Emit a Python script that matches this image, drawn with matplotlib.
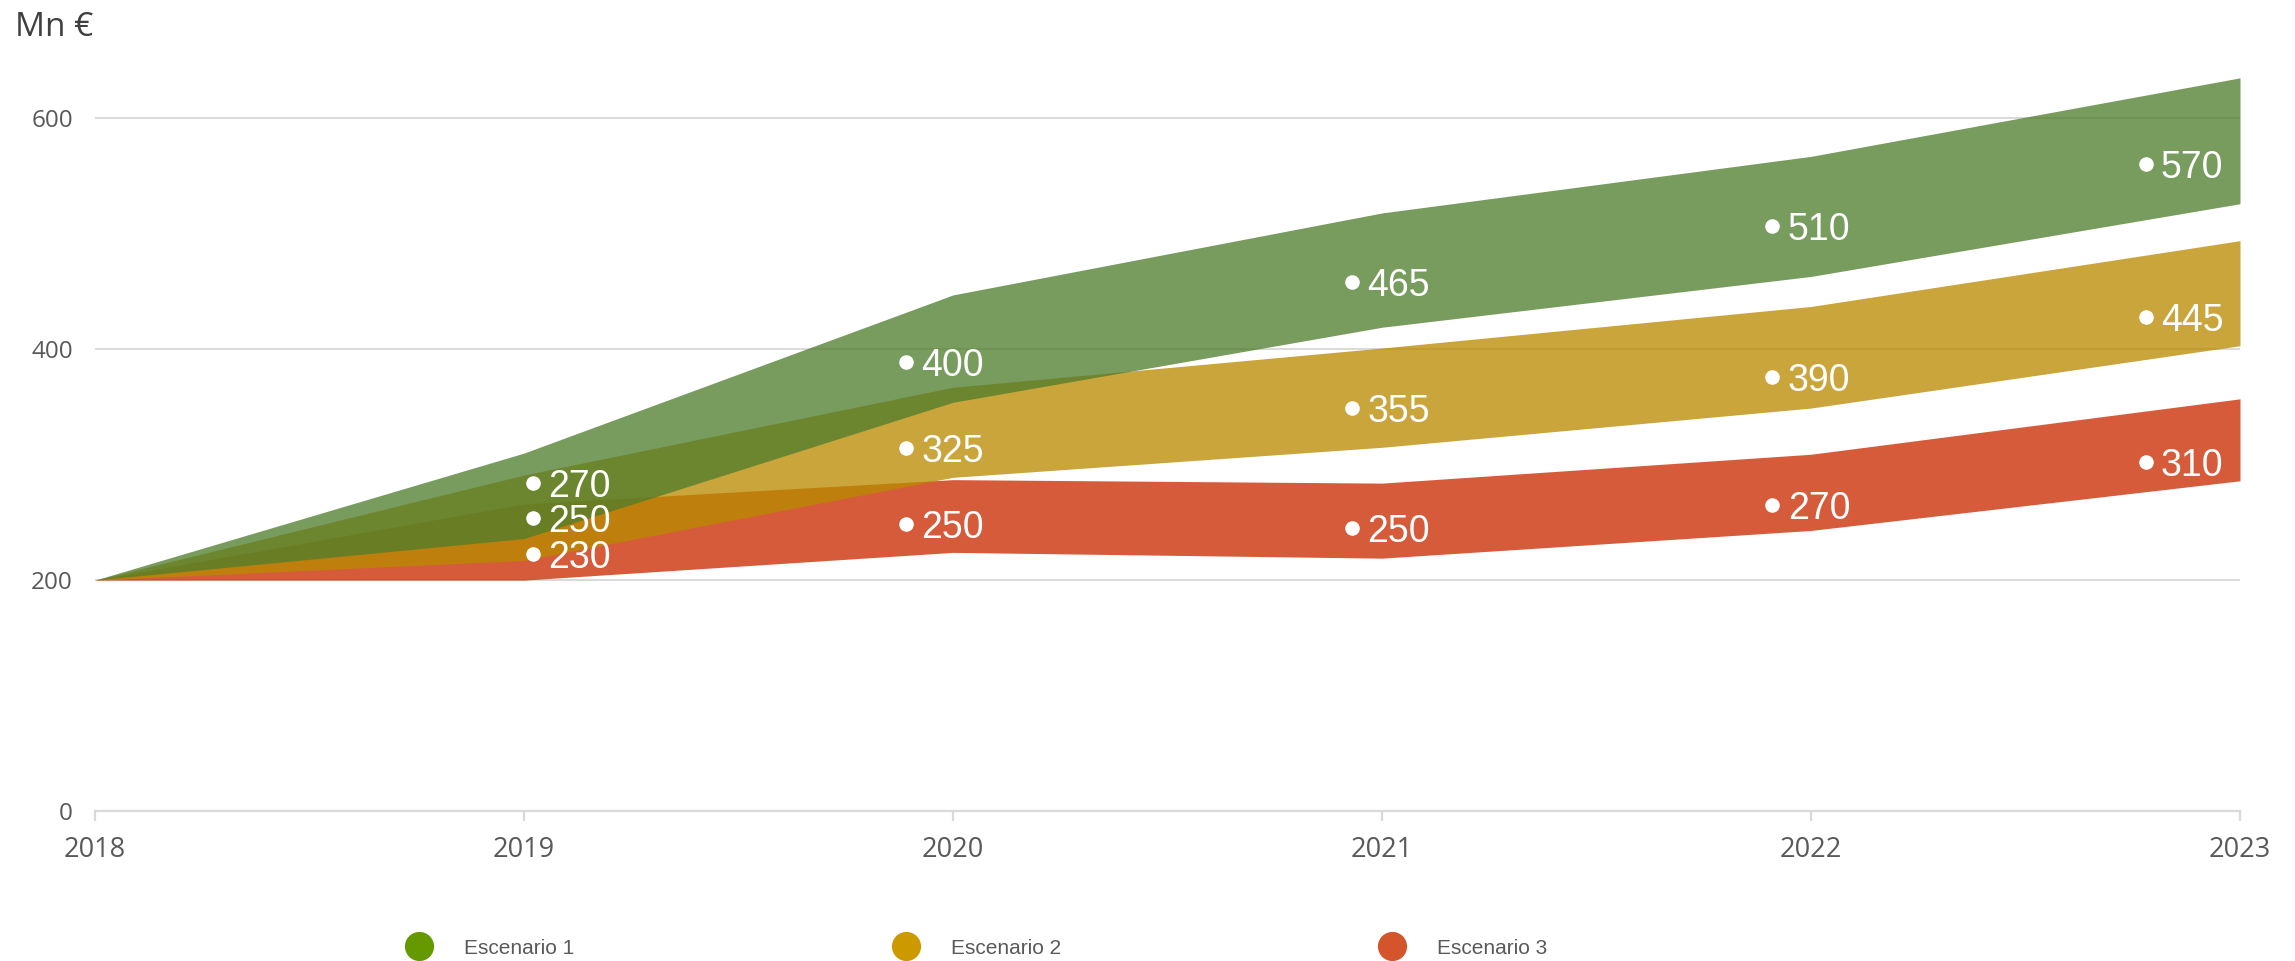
import matplotlib.pyplot as plt
from matplotlib.lines import Line2D

# ── Data (Mn €) ─────────────────────────────────────────────────────────────
years = [2018, 2019, 2020, 2021, 2022, 2023]

esc1_low  = [200, 236, 354, 419, 463, 526]
esc1_high = [200, 310, 447, 518, 567, 635]
esc2_low  = [200, 217, 289, 315, 349, 403]
esc2_high = [200, 291, 367, 401, 437, 494]
esc3_low  = [200, 200, 224, 219, 243, 286]
esc3_high = [200, 266, 287, 284, 309, 357]

# point labels: where the dot sits and the value written next to it
label_x   = [2019.02, 2019.89, 2020.93, 2021.91, 2022.78]
esc1_dot  = [284, 389, 458, 507, 560]
esc2_dot  = [254, 314, 349, 376, 428]
esc3_dot  = [223, 249, 245, 265, 302]
esc1_vals = [270, 400, 465, 510, 570]
esc2_vals = [250, 325, 355, 390, 445]
esc3_vals = [230, 250, 250, 270, 310]

names = ["Escenario 1", "Escenario 2", "Escenario 3"]

# ── Style ────────────────────────────────────────────────────────────────────
FILL   = ["#507d2d", "#b98a00", "#ca2a00"]
LEGEND = ["#669900", "#cc9900", "#d4552b"]
ALPHA  = 0.77
GRID   = "#d9d9d9"
TXT    = "#595959"

fig = plt.figure(figsize=(22.95, 9.61), dpi=100)
ax = fig.add_axes([95 / 2295, 150 / 961, 2145 / 2295, 762 / 961])

bands = [(esc1_low, esc1_high), (esc2_low, esc2_high), (esc3_low, esc3_high)]
# red first, green on top
for i in [2, 1, 0]:
    lo, hi = bands[i]
    ax.fill_between(years, lo, hi, color=FILL[i], alpha=ALPHA, linewidth=0, zorder=2)

for dots, vals in [(esc1_dot, esc1_vals), (esc2_dot, esc2_vals), (esc3_dot, esc3_vals)]:
    ax.plot(label_x, dots, "o", color="white", markersize=10.5, markeredgewidth=0, zorder=4)
    for x, y, v in zip(label_x, dots, vals):
        ax.annotate(str(v), (x, y), xytext=(11, 0), textcoords="offset points",
                    ha="left", va="center_baseline", color="white", fontsize=27,
                    family="Liberation Sans", zorder=5)

ax.set_xlim(2018, 2023)
ax.set_ylim(0, 660)
ax.set_yticks([0, 200, 400, 600])
ax.set_xticks(years)
ax.grid(axis="y", color=GRID, linewidth=1.4, zorder=0)
ax.set_axisbelow(True)

for s in ["top", "right", "left"]:
    ax.spines[s].set_visible(False)
ax.spines["bottom"].set_color(GRID)
ax.spines["bottom"].set_linewidth(1.6)

ax.tick_params(axis="y", length=0, pad=16, labelsize=17.5, labelcolor=TXT)
ax.tick_params(axis="x", length=7, width=1.6, color=GRID, pad=11, labelsize=19.5, labelcolor=TXT)
for lab in ax.get_xticklabels() + ax.get_yticklabels():
    lab.set_family("Open Sans")

fig.text(15 / 2295, 1 - 28 / 961, "Mn €", fontsize=24, color="#404040",
         family="Open Sans", ha="left", va="center")

handles = [Line2D([], [], linestyle="none", marker="o", markersize=21,
                  markerfacecolor=c, markeredgewidth=0) for c in LEGEND]
fig.legend(handles, names, loc="center left", bbox_to_anchor=(409 / 2295, 13 / 961),
           ncol=3, frameon=False, labelcolor=TXT, borderpad=0,
           borderaxespad=0, handlelength=1.0, handletextpad=1.66, columnspacing=15.4,
           prop={"family": "Liberation Sans", "size": 15})

fig.savefig("out.png", dpi=100)
